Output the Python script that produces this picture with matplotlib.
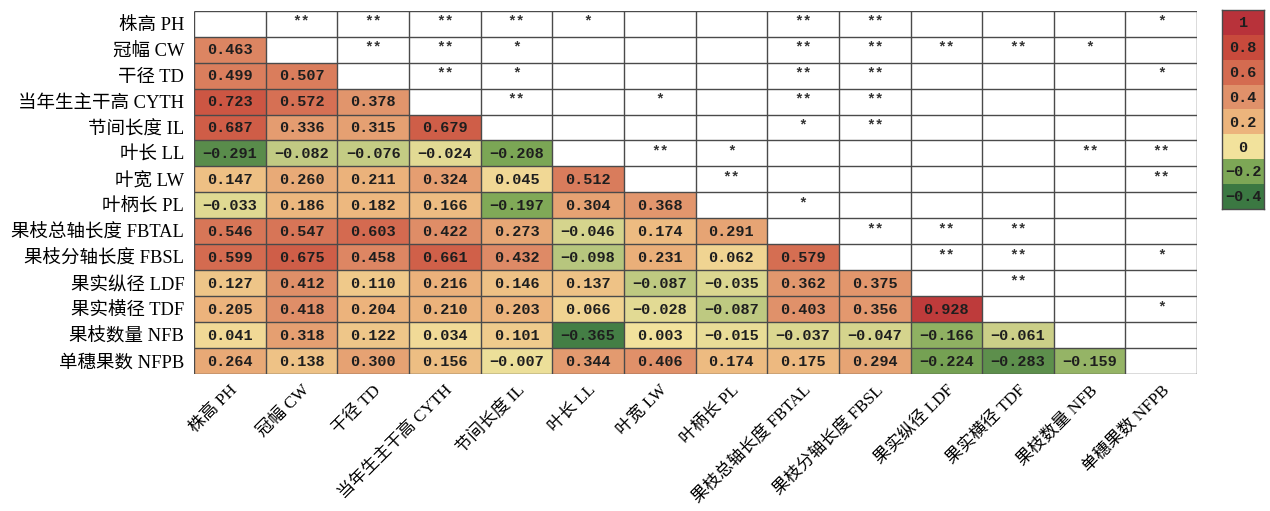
import numpy as np
import matplotlib
matplotlib.use("Agg")
import matplotlib.pyplot as plt
from matplotlib.colors import LinearSegmentedColormap, Normalize
from matplotlib.patches import Rectangle

# Trait names (row / column order)
traits = ["株高 PH", "冠幅 CW", "干径 TD", "当年生主干高 CYTH", "节间长度 IL",
          "叶长 LL", "叶宽 LW", "叶柄长 PL", "果枝总轴长度 FBTAL", "果枝分轴长度 FBSL",
          "果实纵径 LDF", "果实横径 TDF", "果枝数量 NFB", "单穗果数 NFPB"]

# Lower triangle: correlation coefficients, one list per row
r_CW = [0.463]
r_TD = [0.499, 0.507]
r_CYTH = [0.723, 0.572, 0.378]
r_IL = [0.687, 0.336, 0.315, 0.679]
r_LL = [-0.291, -0.082, -0.076, -0.024, -0.208]
r_LW = [0.147, 0.260, 0.211, 0.324, 0.045, 0.512]
r_PL = [-0.033, 0.186, 0.182, 0.166, -0.197, 0.304, 0.368]
r_FBTAL = [0.546, 0.547, 0.603, 0.422, 0.273, -0.046, 0.174, 0.291]
r_FBSL = [0.599, 0.675, 0.458, 0.661, 0.432, -0.098, 0.231, 0.062, 0.579]
r_LDF = [0.127, 0.412, 0.110, 0.216, 0.146, 0.137, -0.087, -0.035, 0.362, 0.375]
r_TDF = [0.205, 0.418, 0.204, 0.210, 0.203, 0.066, -0.028, -0.087, 0.403, 0.356, 0.928]
r_NFB = [0.041, 0.318, 0.122, 0.034, 0.101, -0.365, 0.003, -0.015, -0.037, -0.047,
         -0.166, -0.061]
r_NFPB = [0.264, 0.138, 0.300, 0.156, -0.007, 0.344, 0.406, 0.174, 0.175, 0.294,
          -0.224, -0.283, -0.159]
lower_rows = [[], r_CW, r_TD, r_CYTH, r_IL, r_LL, r_LW, r_PL, r_FBTAL, r_FBSL,
              r_LDF, r_TDF, r_NFB, r_NFPB]

# Upper triangle: significance marks, one list per row (columns i+1 .. 13)
s_PH = ["**", "**", "**", "**", "*", "", "", "**", "**", "", "", "", "*"]
s_CW = ["**", "**", "*", "", "", "", "**", "**", "**", "**", "*", ""]
s_TD = ["**", "*", "", "", "", "**", "**", "", "", "", "*"]
s_CYTH = ["**", "", "*", "", "**", "**", "", "", "", ""]
s_IL = ["", "", "", "*", "**", "", "", "", ""]
s_LL = ["**", "*", "", "", "", "", "**", "**"]
s_LW = ["**", "", "", "", "", "", "**"]
s_PL = ["*", "", "", "", "", ""]
s_FBTAL = ["**", "**", "**", "", ""]
s_FBSL = ["**", "**", "", "*"]
s_LDF = ["**", "", ""]
s_TDF = ["", "*"]
s_NFB = [""]
upper_rows = [s_PH, s_CW, s_TD, s_CYTH, s_IL, s_LL, s_LW, s_PL, s_FBTAL, s_FBSL,
              s_LDF, s_TDF, s_NFB, []]

# Legend scale values
legend_ticks = [1, 0.8, 0.6, 0.4, 0.2, 0, -0.2, -0.4]
legend_labels = ["1", "0.8", "0.6", "0.4", "0.2", "0", "-0.2", "-0.4"]

n = len(traits)
vmin, vmax = -0.4, 1.0
anchors = [(-0.4, "#3b7842"), (-0.3, "#578b4a"), (-0.2, "#7ea856"),
           (-0.1, "#b6c57d"), (0.0, "#f2e29c"), (0.2, "#ecb47c"),
           (0.4, "#e0916a"), (0.6, "#d46b50"), (0.8, "#c84a3c"), (1.0, "#b8323a")]
cmap = LinearSegmentedColormap.from_list(
    "rdylgn_custom", [((v - vmin) / (vmax - vmin), c) for v, c in anchors])
norm = Normalize(vmin, vmax)

serif = ["Liberation Serif", "Noto Sans CJK SC"]
mono = ["Liberation Mono", "DejaVu Sans Mono"]
edge = "#4a4a4a"
txt = "#1e1e1e"

fig = plt.figure(figsize=(12.70, 5.11), dpi=100)
ax = fig.add_axes([0.1528, 0.2681, 0.7898, 0.7109])

for i in range(n):
    for j, v in enumerate(lower_rows[i]):
        ax.add_patch(Rectangle((j, i), 1, 1, facecolor=cmap(norm(v)),
                               edgecolor="none"))
        ax.text(j + 0.5, i + 0.53, f"{v:.3f}".replace("-", "\u2212"),
                ha="center", va="center", fontsize=11, fontweight="bold",
                family=mono, color=txt)
    for k, s in enumerate(upper_rows[i]):
        j = i + 1 + k
        if s:
            ax.text(j + 0.5, i + 0.42, s, ha="center", va="center", fontsize=10.5,
                    fontweight="bold", family=mono, color="#333333")

# grid lines
for k in range(n + 1):
    ax.plot([0, n], [k, k], color=edge, lw=1.0, zorder=3, solid_capstyle="butt")
    ax.plot([k, k], [0, n], color=edge, lw=1.0, zorder=3, solid_capstyle="butt")

ax.set_xlim(0, n)
ax.set_ylim(n, 0)
ax.set_xticks(np.arange(n) + 0.5)
ax.set_yticks(np.arange(n) + 0.5)
ax.set_yticklabels(traits, family=serif, fontsize=13.3)
ax.set_xticklabels(traits, family=serif, fontsize=12.3, rotation=45, ha="right",
                   rotation_mode="anchor")
ax.tick_params(axis="y", length=0, pad=7)
ax.tick_params(axis="x", length=0, pad=6)
for s in ax.spines.values():
    s.set_visible(False)

# discrete legend boxes
cax = fig.add_axes([1222 / 1270, 1 - 209 / 511, 42 / 1270, 199 / 511])
m = len(legend_ticks)
for k, (v, lab) in enumerate(zip(legend_ticks, legend_labels)):
    cax.add_patch(Rectangle((0, k), 1, 1, facecolor=cmap(norm(v)), edgecolor="none"))
    cax.text(0.5, k + 0.53, lab.replace("-", "\u2212"), ha="center", va="center",
             fontsize=11, fontweight="bold", family=mono, color=txt)
cax.set_xlim(0, 1)
cax.set_ylim(m, 0)
cax.set_xticks([])
cax.set_yticks([])
for s in cax.spines.values():
    s.set_color(edge)
    s.set_linewidth(1.0)

fig.savefig("out.png", dpi=100)
